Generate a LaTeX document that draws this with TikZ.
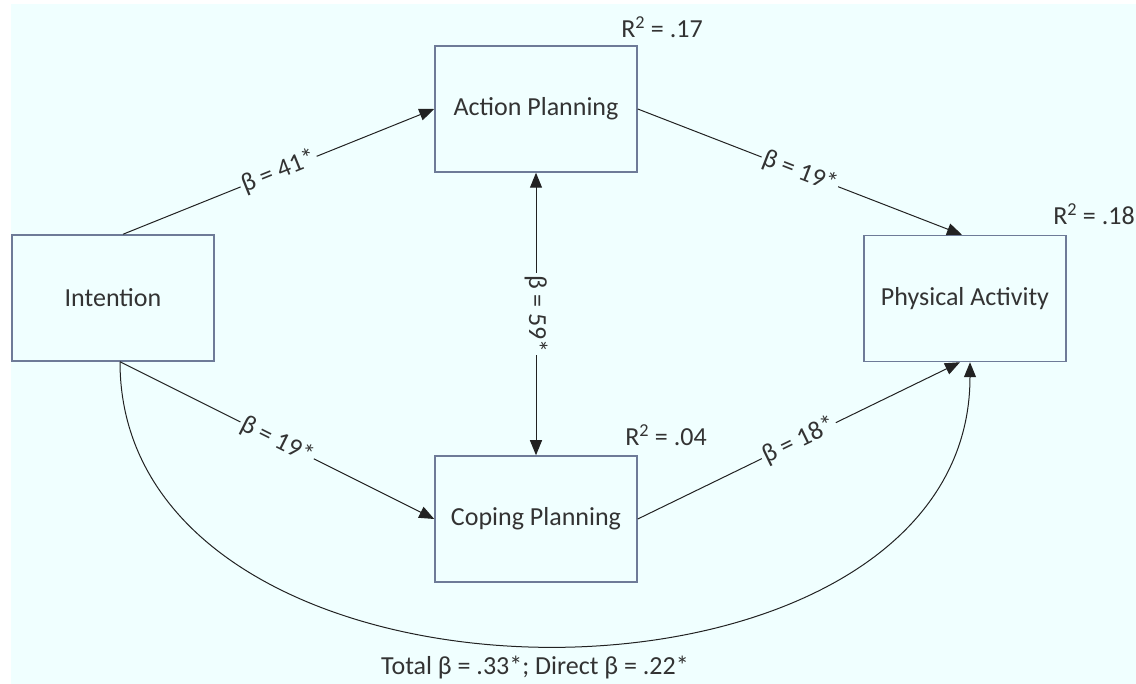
\documentclass[tikz,border=0pt]{standalone}
\usepackage{fontspec}
\setmainfont{Carlito}
\usetikzlibrary{arrows.meta}
\definecolor{bg}{HTML}{F0FFFF}
\definecolor{boxc}{HTML}{6E7B98}
\definecolor{txt}{HTML}{333333}
\definecolor{ln}{HTML}{222222}
\begin{document}
\begin{tikzpicture}[x=1pt,y=-1pt,
  var/.style={draw=boxc, line width=1.5pt, fill=bg, minimum width=202pt, minimum height=126pt, inner sep=0pt, text=txt, font=\fontsize{26}{30}\selectfont},
  edge/.style={draw=ln, line width=1pt, -{Triangle[length=15pt,width=12pt]}},
  lbl/.style={font=\fontsize{26}{30}\selectfont, text=txt, fill=bg, inner sep=2pt, sloped, midway},
  rlbl/.style={font=\fontsize{26}{30}\selectfont, text=txt, inner sep=0pt}
]
\useasboundingbox (0,0) rectangle (1136,684);
\fill[bg] (11,4) rectangle (1136,684);

\node[var] (I) at (113,298) {Intention};
\node[var] (A) at (536,109) {Action Planning};
\node[var] (C) at (536,519) {Coping Planning};
\node[var] (P) at (965,298.5) {Physical Activity};

\draw[edge] ([xshift=10pt]I.north) -- node[lbl]{β = 41*} (A.west);
\draw[edge] (A.east) -- node[lbl]{β = 19*} ([xshift=-3pt]P.north);
\draw[edge] ([xshift=7pt]I.south) -- node[lbl]{β = 19*} (C.west);
\draw[edge] (C.east) -- node[lbl]{β = 18*} ([xshift=-5pt]P.south);
\draw[draw=ln, line width=1pt, {Triangle[length=15pt,width=12pt]}-{Triangle[length=15pt,width=12pt]}] (A.south) -- node[midway, rotate=-90, fill=bg, inner sep=2pt, font=\fontsize{26}{30}\selectfont, text=txt]{β = 59*} (C.north);
\draw[edge] ([xshift=7pt]I.south) .. controls +(0,378) and +(0,378) .. ([xshift=5pt]P.south);

\node[rlbl] (r1) at (662,27) {R\textsuperscript{2} = .17};
\node[rlbl] (r2) at (1094,214) {R\textsuperscript{2} = .18};
\node[rlbl] (r3) at (666,435) {R\textsuperscript{2} = .04};
\node[rlbl] (tot) at (535,668) {Total β = .33*; Direct β = .22*};
\end{tikzpicture}
\end{document}
